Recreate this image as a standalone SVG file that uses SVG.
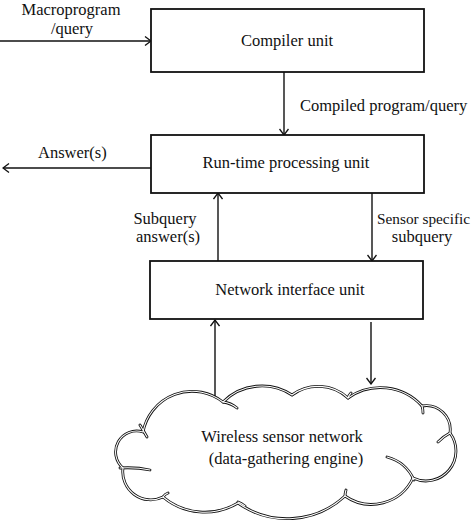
<svg xmlns="http://www.w3.org/2000/svg" width="474" height="523" viewBox="0 0 474 523">
<defs>
<marker id="arr" viewBox="-8 -5 9 10" refX="0" refY="0" markerWidth="9" markerHeight="10" markerUnits="userSpaceOnUse" orient="auto">
<path d="M-6,-4.5 L0,0 L-6,4.5" fill="none" stroke="#111" stroke-width="1.3"/>
</marker>
</defs>
<style>
.box{fill:#fff;stroke:#111;stroke-width:1.8}
.lbl{font-family:"Liberation Serif","Times New Roman",serif;font-size:16.5px;fill:#111}
.c{text-anchor:middle}
.ln{fill:none;stroke:#111;stroke-width:1.4;marker-end:url(#arr)}
.cloudo{fill:none;stroke:#111;stroke-width:2.8;stroke-linecap:round}
.cloudi{fill:none;stroke:#fff;stroke-width:1.1;stroke-linecap:round}
</style>
<rect width="474" height="523" fill="#fff"/>
<g id="connectors">
<line class="ln" x1="0" y1="41" x2="151" y2="41"/>
<line class="ln" x1="284" y1="72" x2="284" y2="135"/>
<line class="ln" x1="151" y1="168" x2="3" y2="168"/>
<line class="ln" x1="218" y1="261" x2="218" y2="193"/>
<line class="ln" x1="372" y1="193" x2="372" y2="261"/>
<line class="ln" x1="215" y1="398" x2="215" y2="320"/>
<line class="ln" x1="371" y1="322" x2="371" y2="384"/>
<text class="lbl c" x="71" y="15">Macroprogram</text>
<text class="lbl c" x="72" y="34">/query</text>
<text class="lbl" x="300" y="111">Compiled program/query</text>
<text class="lbl" x="38" y="158">Answer(s)</text>
<text class="lbl c" x="165" y="224">Subquery</text>
<text class="lbl c" x="168" y="242">answer(s)</text>
<text class="lbl" x="377" y="224" style="font-size:15.3px">Sensor specific</text>
<text class="lbl c" x="422" y="242">subquery</text>
</g>
<g id="compiler">
<rect class="box" x="151" y="9" width="273" height="63"/>
<text class="lbl c" x="287" y="46">Compiler unit</text>
</g>
<g id="runtime">
<rect class="box" x="151" y="135" width="273" height="58"/>
<text class="lbl c" x="286" y="168">Run-time processing unit</text>
</g>
<g id="network">
<rect class="box" x="150" y="261" width="273" height="58"/>
<text class="lbl c" x="290" y="295">Network interface unit</text>
</g>
<g id="cloud">
<path d="M143,432 A50,50 0 0 1 223,402 A55,55 0 0 1 292,395 A44,44 0 0 1 348,398 A56,56 0 0 1 422,406 A24,24 0 0 1 450,433 A30,30 0 0 1 413,478 A46,46 0 0 1 345,496 A85,85 0 0 1 238,503 A65,65 0 0 1 163,497 A28,28 0 0 1 123,468 A21,21 0 0 1 143,432 Z" class="cloudo"/>
<path d="M140,425 Q143,430 147,437 M120,468 Q136,467 150,470 M163,497 Q165,494 168,493 M238,502 Q241,503 245,506 M345,496 Q345,493 346,490 M387,457 Q406,462 414,480 M450,433 Q444,436 438,442 M422,406 Q423,409 423,413 M348,398 Q349,395 351,393 M223,402 Q231,403 237,408" class="cloudo"/>
<path d="M143,432 A50,50 0 0 1 223,402 A55,55 0 0 1 292,395 A44,44 0 0 1 348,398 A56,56 0 0 1 422,406 A24,24 0 0 1 450,433 A30,30 0 0 1 413,478 A46,46 0 0 1 345,496 A85,85 0 0 1 238,503 A65,65 0 0 1 163,497 A28,28 0 0 1 123,468 A21,21 0 0 1 143,432 Z" class="cloudi"/>
<path d="M140,425 Q143,430 147,437 M120,468 Q136,467 150,470 M163,497 Q165,494 168,493 M238,502 Q241,503 245,506 M345,496 Q345,493 346,490 M387,457 Q406,462 414,480 M450,433 Q444,436 438,442 M422,406 Q423,409 423,413 M348,398 Q349,395 351,393 M223,402 Q231,403 237,408" class="cloudi"/>
<text class="lbl c" x="282" y="442">Wireless sensor network</text>
<text class="lbl c" x="286" y="464">(data-gathering engine)</text>
</g>
</svg>
